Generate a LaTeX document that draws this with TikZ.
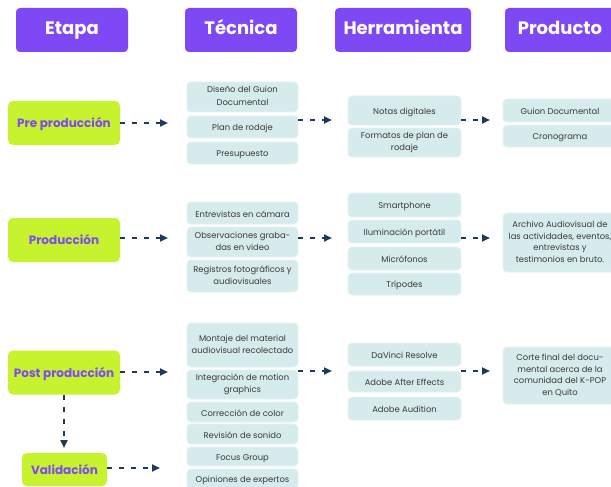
\documentclass[tikz,border=0pt]{standalone}
\usepackage{fontspec}
\setmainfont{Poppins}
\usepackage{tikz}
\usetikzlibrary{arrows.meta}

\definecolor{morado}{HTML}{7F48F5}
\definecolor{lima}{HTML}{C6F22E}
\definecolor{celeste}{HTML}{D6EBEC}
\definecolor{borde}{HTML}{E6F2F2}
\definecolor{texto}{HTML}{3A3A3A}
\definecolor{flecha}{HTML}{1B3A5C}

\tikzset{
  head/.style={fill=morado, rounded corners=4pt, text=white, font=\fontsize{18}{20}\selectfont\bfseries, minimum height=44pt, inner sep=0pt, text height=1.0em, text depth=0.08em},
  etapa/.style={fill=lima, rounded corners=5pt, text=morado, font=\fontsize{12}{14}\selectfont\bfseries, minimum width=112pt, minimum height=44pt, inner sep=0pt, text height=1.03em, text depth=0.1em},
  caja/.style={fill=celeste, draw=borde, line width=0.8pt, rounded corners=4pt, text=texto, font=\fontsize{8.4}{11.5}\selectfont, align=center, inner sep=0pt,
    execute at begin node={\rule{0pt}{1.2em}}, execute at end node={\rule[-0.22em]{0pt}{0pt}}},
  tec/.style={caja, minimum width=111pt},
  herr/.style={caja, minimum width=113pt},
  prod/.style={caja, minimum width=114pt},
  arr/.style={flecha, line width=2.4pt, dash pattern=on 5pt off 7pt, -{Triangle[length=8pt,width=7pt]}}
}

\begin{document}
\begin{tikzpicture}[x=1pt,y=-1pt]
\useasboundingbox (0,0) rectangle (611,487);
\fill[white] (0,0) rectangle (611,487);

% encabezados
\node[head, minimum width=112pt] (hEtapa) at (72,30) {Etapa};
\node[head, minimum width=112pt] (hTec) at (241,30) {Técnica};
\node[head, minimum width=136pt] (hHerr) at (403,30) {Herramienta};
\node[head, minimum width=110pt] (hProd) at (560,30) {Producto};

% etapas
\node[etapa] (pre) at (64,123) {Pre producción};
\node[etapa] (prodn) at (64,240) {Producción};
\node[etapa] (post) at (64,372.5) {Post producción};
\node[etapa, minimum width=85pt, minimum height=33pt] (val) at (64.5,469.5) {Validación};

% tecnicas
\node[tec, minimum height=30pt] (t1) at (242.5,97) {Diseño del Guion\\[1.5pt]Documental};
\node[tec, minimum height=22pt] (t2) at (242.5,127) {Plan de rodaje};
\node[tec, minimum height=22pt] (t3) at (242.5,153) {Presupuesto};

\node[tec, minimum height=22pt] (t4) at (242.5,213) {Entrevistas en cámara};
\node[tec, minimum height=30pt] (t5) at (242.5,242) {Observaciones graba-\\das en video};
\node[tec, minimum height=32pt] (t6) at (242.5,276) {Registros fotográficos y\\audiovisuales};

\node[tec, minimum height=44pt] (t7) at (242.5,345) {Montaje del material\\audiovisual recolectado};
\node[tec, minimum height=29pt] (t8) at (242.5,384.5) {Integración de motion\\graphics};
\node[tec, minimum height=20pt] (t9) at (242.5,412) {Corrección de color};
\node[tec, minimum height=20pt] (t10) at (242.5,434) {Revisión de sonido};
\node[tec, minimum height=19pt] (t11) at (242.5,456.5) {Focus Group};
\node[tec, minimum height=20pt] (t12) at (242.5,479) {Opiniones de expertos};

% herramientas
\node[herr, minimum height=29pt] (h1) at (404.5,110.5) {Notas digitales};
\node[herr, minimum height=29pt] (h2) at (404.5,142.5) {Formatos de plan de\\rodaje};

\node[herr, minimum height=24pt] (h3) at (404.5,205) {Smartphone};
\node[herr, minimum height=23pt] (h4) at (404.5,231.5) {Iluminación portátil};
\node[herr, minimum height=23pt] (h5) at (404.5,258.5) {Micrófonos};
\node[herr, minimum height=22pt] (h6) at (404.5,284) {Trípodes};

\node[herr, minimum height=23pt] (h7) at (404.5,354.5) {DaVinci Resolve};
\node[herr, minimum height=21pt] (h8) at (404.5,381.5) {Adobe After Effects};
\node[herr, minimum height=23pt] (h9) at (404.5,408.5) {Adobe Audition};

% productos
\node[prod, minimum height=23pt] (p1) at (560,110.5) {Guion Documental};
\node[prod, minimum height=22pt] (p2) at (560,136) {Cronograma};
\node[prod, minimum height=59pt] (p3) at (560,242.5) {Archivo Audiovisual de\\las actividades, eventos,\\entrevistas y\\testimonios en bruto.};
\node[prod, minimum height=57pt] (p4) at (560,375.5) {Corte final del docu-\\mental acerca de la\\comunidad del K-POP\\en Quito};

% flechas
\coordinate (a1) at (168,123);
\coordinate (a2) at (168,238);
\coordinate (a3) at (168,372);
\coordinate (a4) at (160,468);
\coordinate (a5) at (64,448);
\coordinate (b1s) at (298,120); \coordinate (b1) at (332,120);
\coordinate (b2s) at (298,238); \coordinate (b2) at (332,238);
\coordinate (b3s) at (298,371); \coordinate (b3) at (332,371);
\coordinate (c1s) at (461,120); \coordinate (c1) at (490,120);
\coordinate (c2s) at (461,238); \coordinate (c2) at (490,238);
\coordinate (c3s) at (461,371); \coordinate (c3) at (490,371);

\draw[arr] (pre.east |- a1) -- (a1);
\draw[arr] (prodn.east |- a2) -- (a2);
\draw[arr] (post.east |- a3) -- (a3);
\draw[arr] (val.east |- a4) -- (a4);
\draw[arr] (post.south) -- (a5);
\draw[arr] (b1s) -- (b1);
\draw[arr] (b2s) -- (b2);
\draw[arr] (b3s) -- (b3);
\draw[arr] (c1s) -- (c1);
\draw[arr] (c2s) -- (c2);
\draw[arr] (c3s) -- (c3);
\end{tikzpicture}
\end{document}
